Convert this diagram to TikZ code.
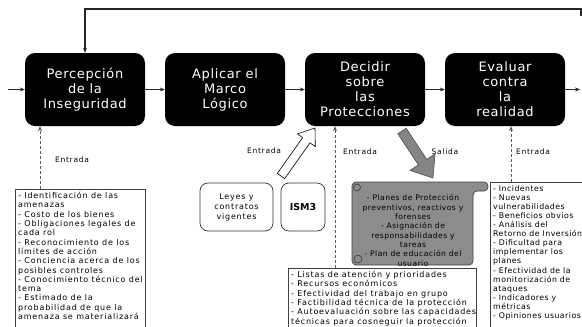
\documentclass[tikz,border=0pt]{standalone}
\usepackage{fontspec}
\setmainfont{DejaVu Sans}
\newfontfamily\boxfont[LetterSpace=5]{DejaVu Sans}
\newfontfamily\listfont[LetterSpace=10]{DejaVu Sans}
\newfontfamily\rollfont[LetterSpace=6]{DejaVu Sans}
\usetikzlibrary{arrows.meta,calc}
\tikzset{>/.tip={Stealth[length=5pt,width=4pt]},
  stage/.style={fill=black,rounded corners=10pt,minimum width=120pt,minimum height=73pt,
    inner sep=0pt,text=white,align=center,font=\boxfont\fontsize{13}{15}\selectfont},
  caja/.style={draw=black!75,line width=0.6pt,anchor=north west,inner sep=0pt},
  texto/.style={anchor=north west,align=left,inner sep=0pt,font=\listfont\fontsize{8}{9.3}\selectfont},
  fuente/.style={draw=black!80,line width=0.7pt,rounded corners=8pt,minimum height=48pt,
    align=center,inner sep=0pt},
  etiqueta/.style={font=\listfont\fontsize{7.5}{9}\selectfont},
  flujo/.style={->,line width=1.1pt,draw=black!85},
  entrada/.style={->,densely dashed,line width=0.6pt,draw=black!65},
  hueca/.style={fill=white,draw=black,line width=0.6pt},
  salida/.style={fill=black!48,draw=black!70,line width=0.6pt},
  rollo/.style={fill=black!45,draw=black!75,line width=0.7pt}}
\newcommand{\flechaancha}[6]{%
  \coordinate (fb) at ($(#3)!#6!(#2)$);
  \filldraw[#1] ($(#2)!#4!90:(#3)$) -- ($(fb)!#4!90:(#3)$) -- ($(fb)!#5!90:(#3)$) -- (#3)
    -- ($(fb)!#5!-90:(#3)$) -- ($(fb)!#4!-90:(#3)$) -- ($(#2)!#4!-90:(#3)$) -- cycle;}

\begin{document}
\begin{tikzpicture}[x=1pt,y=-1pt]
\useasboundingbox (0,0) rectangle (582,327);

\node[stage] (perc) at (85,89.5) {Percepción\\de la\\Inseguridad};
\node[stage] (marco) at (225,89.5) {Aplicar el\\Marco\\Lógico};
\node[stage] (decid) at (365,89.5) {Decidir\\sobre\\las\\Protecciones};
\node[stage] (eval) at (505,89.5) {Evaluar\\contra\\la\\realidad};

\coordinate (ini) at (8,89.5);
\coordinate (fin) at (580,89.5);
\coordinate (ret1) at (581,16);
\coordinate (ret2) at (581,9);

\draw[flujo] (ini) -- (perc);
\draw[flujo] (perc) -- (marco);
\draw[flujo] (marco) -- (decid);
\draw[flujo] (decid) -- (eval);
\draw[flujo] (eval) -- (fin);
\draw[flujo] (ret1) -- (ret2) -- (ret2 -| perc.north) -- (perc.north);

\node[caja,minimum width=130pt,minimum height=145pt] (lista1) at (15,189) {};
\node[texto] (txt1) at ($(lista1.north west)+(3,3)$)
  {- Identificación de las\\amenazas\\- Costo de los bienes\\- Obligaciones legales de\\cada rol\\
   - Reconocimiento de los\\límites de acción\\- Conciencia acerca de los\\posibles controles\\
   - Conocimiento técnico del\\tema\\- Estimado de la\\probabilidad de que la\\amenaza se materializará};

\filldraw[rollo,rounded corners=4pt] (352,190) -- (352,182) -- (488,182) -- (488,191)
  -- (473,191) -- (473,265) -- (352,265) -- cycle;
\draw[rollo] (357,187.5) circle (3.5pt);
\draw[rollo] (358,259) circle (4pt);
\node[font=\rollfont\fontsize{7.6}{9.3}\selectfont,align=center] (plan) at (413,230.5)
  {- Planes de Protección\\preventivos, reactivos y\\forenses\\- Asignación de\\
   responsabilidades y\\tareas\\- Plan de educación del\\usuario};

\node[caja,fill=white,minimum width=188pt,minimum height=62pt] (lista2) at (288,268) {};
\node[texto] (txt2) at ($(lista2.north west)+(3,3)$)
  {- Listas de atención y prioridades\\- Recursos económicos\\- Efectividad del trabajo en grupo\\
   - Factibilidad técnica de la protección\\- Autoevaluación sobre las capacidades\\
   técnicas para cosneguir la protección};

\node[caja,minimum width=120pt,minimum height=146pt] (lista3) at (490,182) {};
\node[texto,font=\rollfont\fontsize{7.8}{9.1}\selectfont] (txt3) at ($(lista3.north west)+(3,3)$)
  {- Incidentes\\- Nuevas\\vulnerabilidades\\- Beneficios obvios\\- Análisis del\\
   Retorno de Inversión\\- Dificultad para\\implementar los\\planes\\- Efectividad de la\\
   monitorización de\\ataques\\- Indicadores y\\métricas\\- Opiniones usuarios};

\node[fuente,minimum width=73pt,font=\listfont\fontsize{8}{10}\selectfont] (leyes) at (236.5,207)
  {Leyes y\\contratos\\vigentes};
\node[fuente,minimum width=44pt,font=\bfseries\fontsize{9.5}{11}\selectfont] (ism) at (303,207) {ISM3};

\coordinate (e1) at (40,189);
\coordinate (e3) at (335,268);
\coordinate (e4) at (511,182);
\draw[entrada] (e1) -- (e1 |- perc.south);
\draw[entrada] (e3) -- (e3 |- decid.south);
\draw[entrada] (e4) -- (e4 |- eval.south);

\coordinate (h1) at (281,176);
\coordinate (h2) at (315,128);
\flechaancha{hueca}{h1}{h2}{4.5pt}{11pt}{15pt}
\coordinate (s1) at (402,131);
\coordinate (s2) at (433,178);
\flechaancha{salida}{s1}{s2}{5pt}{15pt}{19pt}

\node[etiqueta] (ent1) at (72,160) {Entrada};
\node[etiqueta] (ent2) at (264,151) {Entrada};
\node[etiqueta] (ent3) at (360,152) {Entrada};
\node[etiqueta] (sal3) at (445,152) {Salida};
\node[etiqueta] (ent4) at (533,152) {Entrada};
\end{tikzpicture}
\end{document}
